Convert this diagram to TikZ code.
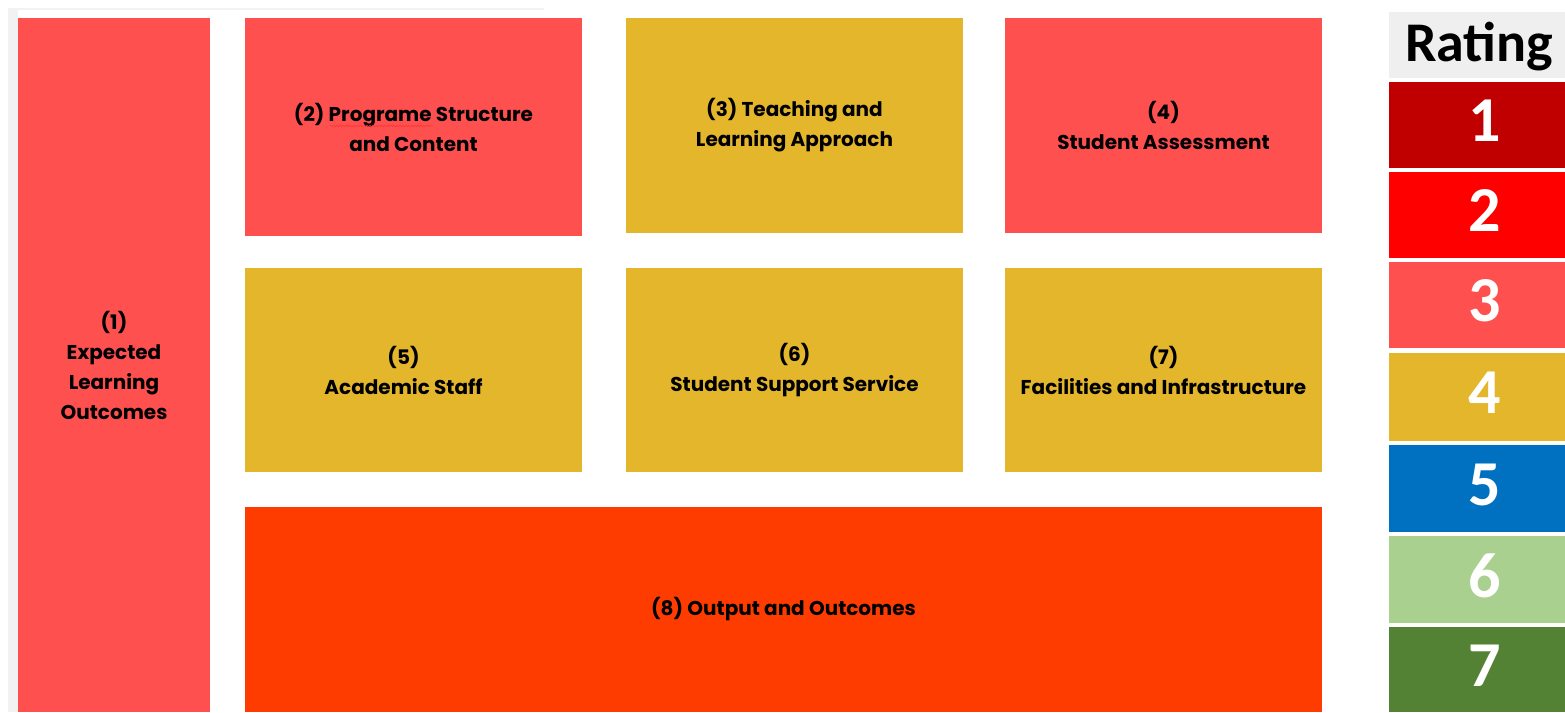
\documentclass[tikz,border=0pt]{standalone}
\usepackage{fontspec}
\setmainfont{Poppins}
\newfontfamily\calib{Carlito}
\usetikzlibrary{decorations.pathmorphing}
\definecolor{cred}{HTML}{FF5050}
\definecolor{cyel}{HTML}{E4B62B}
\definecolor{corg}{HTML}{FF3C00}
\definecolor{rOne}{HTML}{C00000}
\definecolor{rTwo}{HTML}{FF0000}
\definecolor{rThree}{HTML}{FF5050}
\definecolor{rFour}{HTML}{E4B62B}
\definecolor{rFive}{HTML}{0070C0}
\definecolor{rSix}{HTML}{A9D08E}
\definecolor{rSeven}{HTML}{548235}
\definecolor{hdr}{HTML}{EFEFEF}
\tikzset{
  area/.style={anchor=north west, inner sep=0pt, outer sep=0pt, align=center,
    font=\fontsize{20}{30}\selectfont\bfseries, text=black},
  rcell/.style={anchor=north west, inner sep=0pt, outer sep=0pt,
    minimum width=192pt, minimum height=86pt, text=white,
    font=\calib\fontsize{64}{64}\selectfont\bfseries},
}
\newcommand{\dg}[1]{\raisebox{8pt}{#1}}
\begin{document}
\begin{tikzpicture}[x=1pt,y=-1pt]
\useasboundingbox (0,0) rectangle (1565,712);
\fill[white] (0,0) rectangle (1565,712);
% faint frame
\fill[black!5] (8,8) rectangle (18,712);
\fill[black!5] (8,8) rectangle (544,10);
% areas
\node[area, fill=cred, minimum width=192pt, minimum height=694pt] (a1) at (18,18)
  {(1)\\Expected\\Learning\\Outcomes};
\node[area, fill=cred, minimum width=337pt, minimum height=218pt] (a2) at (245,18)
  {(2) Programe Structure\\and Content};
\node[area, fill=cyel, minimum width=337pt, minimum height=215pt] (a3) at (626,18)
  {(3) Teaching and\\Learning Approach};
\node[area, fill=cred, minimum width=317pt, minimum height=215pt] (a4) at (1005,18)
  {(4)\\Student Assessment};
\node[area, fill=cyel, minimum width=337pt, minimum height=204pt] (a5) at (245,268)
  {(5)\hspace*{20pt}\\Academic Staff\hspace*{20pt}};
\node[area, fill=cyel, minimum width=337pt, minimum height=204pt] (a6) at (626,268)
  {(6)\\Student Support Service};
\node[area, fill=cyel, minimum width=317pt, minimum height=204pt] (a7) at (1005,268)
  {(7)\\Facilities and Infrastructure};
\node[area, fill=corg, minimum width=1077pt, minimum height=205pt] (a8) at (245,507)
  {(8) Output and Outcomes};
% spellcheck wave under "Programe"
\draw[red!80, line width=0.5pt, decorate, decoration={snake, amplitude=0.8pt, segment length=3pt}]
  (330,126) -- (432,126);
% rating legend
\node[anchor=north west, inner sep=0pt, fill=hdr, minimum width=192pt, minimum height=66pt] (hd) at (1389,12) {};
\node[anchor=base west, inner sep=0pt, font=\calib\fontsize{56}{56}\selectfont\bfseries, text=black] (ht) at (1405,61) {Rating};
\node[rcell, fill=rOne]   (r1) at (1389,82)  {\dg{1}};
\node[rcell, fill=rTwo]   (r2) at (1389,172) {\dg{2}};
\node[rcell, fill=rThree] (r3) at (1389,262) {\dg{3}};
\node[rcell, fill=rFour, minimum height=88pt]  (r4) at (1389,353) {\dg{4}};
\node[rcell, fill=rFive, minimum height=87pt]  (r5) at (1389,445) {\dg{5}};
\node[rcell, fill=rSix, minimum height=87pt]   (r6) at (1389,536) {\dg{6}};
\node[rcell, fill=rSeven, minimum height=85pt] (r7) at (1389,627) {\dg{7}};
\end{tikzpicture}
\end{document}
